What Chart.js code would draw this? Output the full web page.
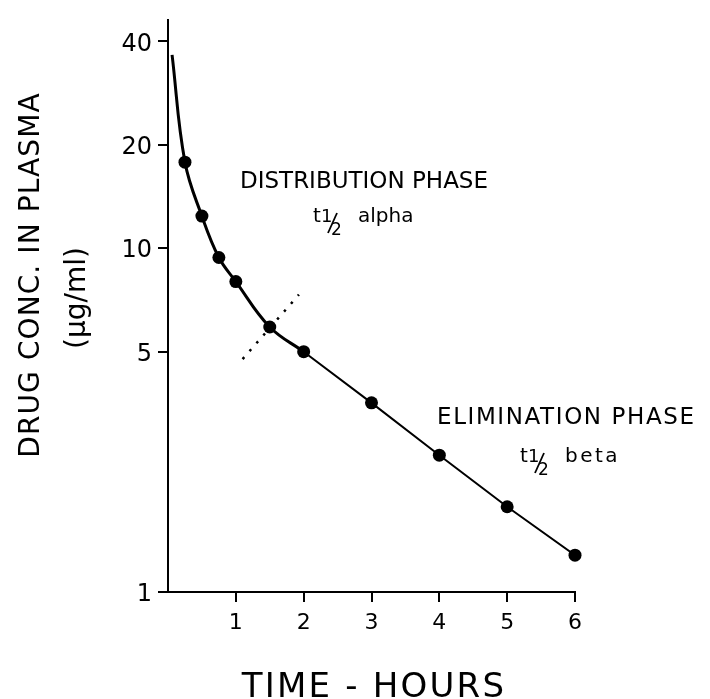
<!DOCTYPE html>
<html>
<head>
<meta charset="utf-8">
<script src="https://cdn.jsdelivr.net/npm/chart.js@4.4.1/dist/chart.umd.min.js"></script>
<style>
  body { margin: 0; background: #fff; }
  #wrap { width: 710px; height: 699px; }
</style>
</head>
<body>
<div id="wrap"><canvas id="chart"></canvas></div>
<script>
// sampled concentrations (hours, ug/ml)
var hours = [0.25, 0.5, 0.75, 1, 1.5, 2, 3, 4, 5, 6];
var conc = [17.8, 12.4, 9.4, 8.0, 5.9, 5.0, 3.55, 2.5, 1.77, 1.28];
// where the drawn curve begins, just after the dose
var curveStartHour = 0.06;
var curveStartConc = 36.5;
// hour from which the plot is a straight (elimination) line
var eliminationFrom = 2;
// dotted line marking the change of phase
var phaseMarkHours = [1.1, 1.93];
var phaseMarkConc = [4.76, 7.33];

var xTicks = [1, 2, 3, 4, 5, 6];
var yTicks = [1, 5, 10, 20, 40];

var FONT = "'DejaVu Sans', sans-serif";

var points = hours.map(function (h, i) { return { x: h, y: conc[i] }; });
var curved = [{ x: curveStartHour, y: curveStartConc }].concat(
  points.filter(function (p) { return p.x <= eliminationFrom; }));
var straight = points.filter(function (p) { return p.x >= eliminationFrom; });
var phaseMark = phaseMarkHours.map(function (h, i) { return { x: h, y: phaseMarkConc[i] }; });

function txt(ctx, s, x, y, size, spacing) {
  ctx.font = size + 'px ' + FONT;
  ctx.letterSpacing = (spacing || 0) + 'px';
  ctx.fillText(s, x, y);
}

// "t 1/2 <word>" with a slanted fraction
function halfLife(ctx, x, y, word, spacing) {
  ctx.textAlign = 'left';
  ctx.textBaseline = 'alphabetic';
  txt(ctx, 't', x, y, 20);
  txt(ctx, '1', x + 8, y, 18);
  ctx.beginPath();
  ctx.moveTo(x + 15, y + 11);
  ctx.lineTo(x + 24, y - 9);
  ctx.lineWidth = 1.8;
  ctx.strokeStyle = '#000';
  ctx.stroke();
  txt(ctx, '2', x + 18, y + 13, 17);
  txt(ctx, word, x + 45, y, 20, spacing);
}

var labels = {
  id: 'labels',
  afterDraw: function (chart) {
    var ctx = chart.ctx;
    ctx.save();
    ctx.fillStyle = '#000';

    // axis titles
    ctx.textAlign = 'center';
    ctx.textBaseline = 'middle';
    ctx.save();
    ctx.translate(32, 275);
    ctx.rotate(-Math.PI / 2);
    txt(ctx, 'DRUG CONC. IN PLASMA', 0, 0, 28, 1.1);
    ctx.restore();
    ctx.save();
    ctx.translate(78, 298);
    ctx.rotate(-Math.PI / 2);
    txt(ctx, '(\u03bcg/ml)', 0, 0, 28, 0);
    ctx.restore();

    ctx.textBaseline = 'alphabetic';
    txt(ctx, 'TIME - HOURS', 374, 697, 34, 2.2);

    // phase notes
    ctx.textAlign = 'left';
    txt(ctx, 'DISTRIBUTION PHASE', 240, 188, 23, 0);
    halfLife(ctx, 313, 222, 'alpha', 0);
    ctx.textAlign = 'left';
    txt(ctx, 'ELIMINATION PHASE', 437, 424, 23, 1.6);
    halfLife(ctx, 520, 462, 'beta', 2.5);
    ctx.restore();
  }
};

var ctx = document.getElementById('chart').getContext('2d');
var chart = new Chart(ctx, {
  type: 'scatter',
  data: {
    datasets: [
      {
        label: 'distribution',
        type: 'line',
        data: curved,
        borderColor: '#000',
        borderWidth: 3,
        pointRadius: 0,
        tension: 0.4,
        fill: false
      },
      {
        label: 'elimination',
        type: 'line',
        data: straight,
        borderColor: '#000',
        borderWidth: 2,
        pointRadius: 0,
        tension: 0,
        fill: false
      },
      {
        label: 'samples',
        data: points,
        backgroundColor: '#000',
        borderColor: '#000',
        pointBorderWidth: 0,
        pointRadius: 6.5,
        pointHoverRadius: 6.5,
        clip: 12
      },
      {
        label: 'phase change',
        type: 'line',
        data: phaseMark,
        borderColor: '#000',
        borderWidth: 2.5,
        borderDash: [2.5, 8],
        pointRadius: 0,
        fill: false
      }
    ]
  },
  options: {
    responsive: true,
    maintainAspectRatio: false,
    animation: false,
    layout: { padding: { top: 13, right: 135, left: 0, bottom: 0 } },
    plugins: {
      legend: { display: false },
      tooltip: { enabled: false }
    },
    scales: {
      x: {
        type: 'linear',
        min: 0,
        max: 6,
        afterBuildTicks: function (scale) {
          scale.ticks = xTicks.map(function (v) { return { value: v }; });
        },
        afterFit: function (scale) { scale.height = 107; },
        grid: { drawOnChartArea: false, drawTicks: true, tickLength: 10, color: '#000', lineWidth: 2 },
        border: { display: true, color: '#000', width: 2 },
        ticks: {
          color: '#000',
          padding: 8,
          font: { family: FONT, size: 22 },
          callback: function (v) { return String(v); }
        }
      },
      y: {
        type: 'logarithmic',
        min: 1,
        max: 46,
        afterBuildTicks: function (scale) {
          scale.ticks = yTicks.map(function (v) { return { value: v }; });
        },
        afterFit: function (scale) { scale.width = 168; },
        grid: { drawOnChartArea: false, drawTicks: true, tickLength: 10, color: '#000', lineWidth: 2 },
        border: { display: true, color: '#000', width: 2 },
        ticks: {
          color: '#000',
          padding: 6,
          labelOffset: 3,
          font: { family: FONT, size: 24 },
          callback: function (v) { return String(v); }
        }
      }
    }
  },
  plugins: [labels]
});
</script>
</body>
</html>
